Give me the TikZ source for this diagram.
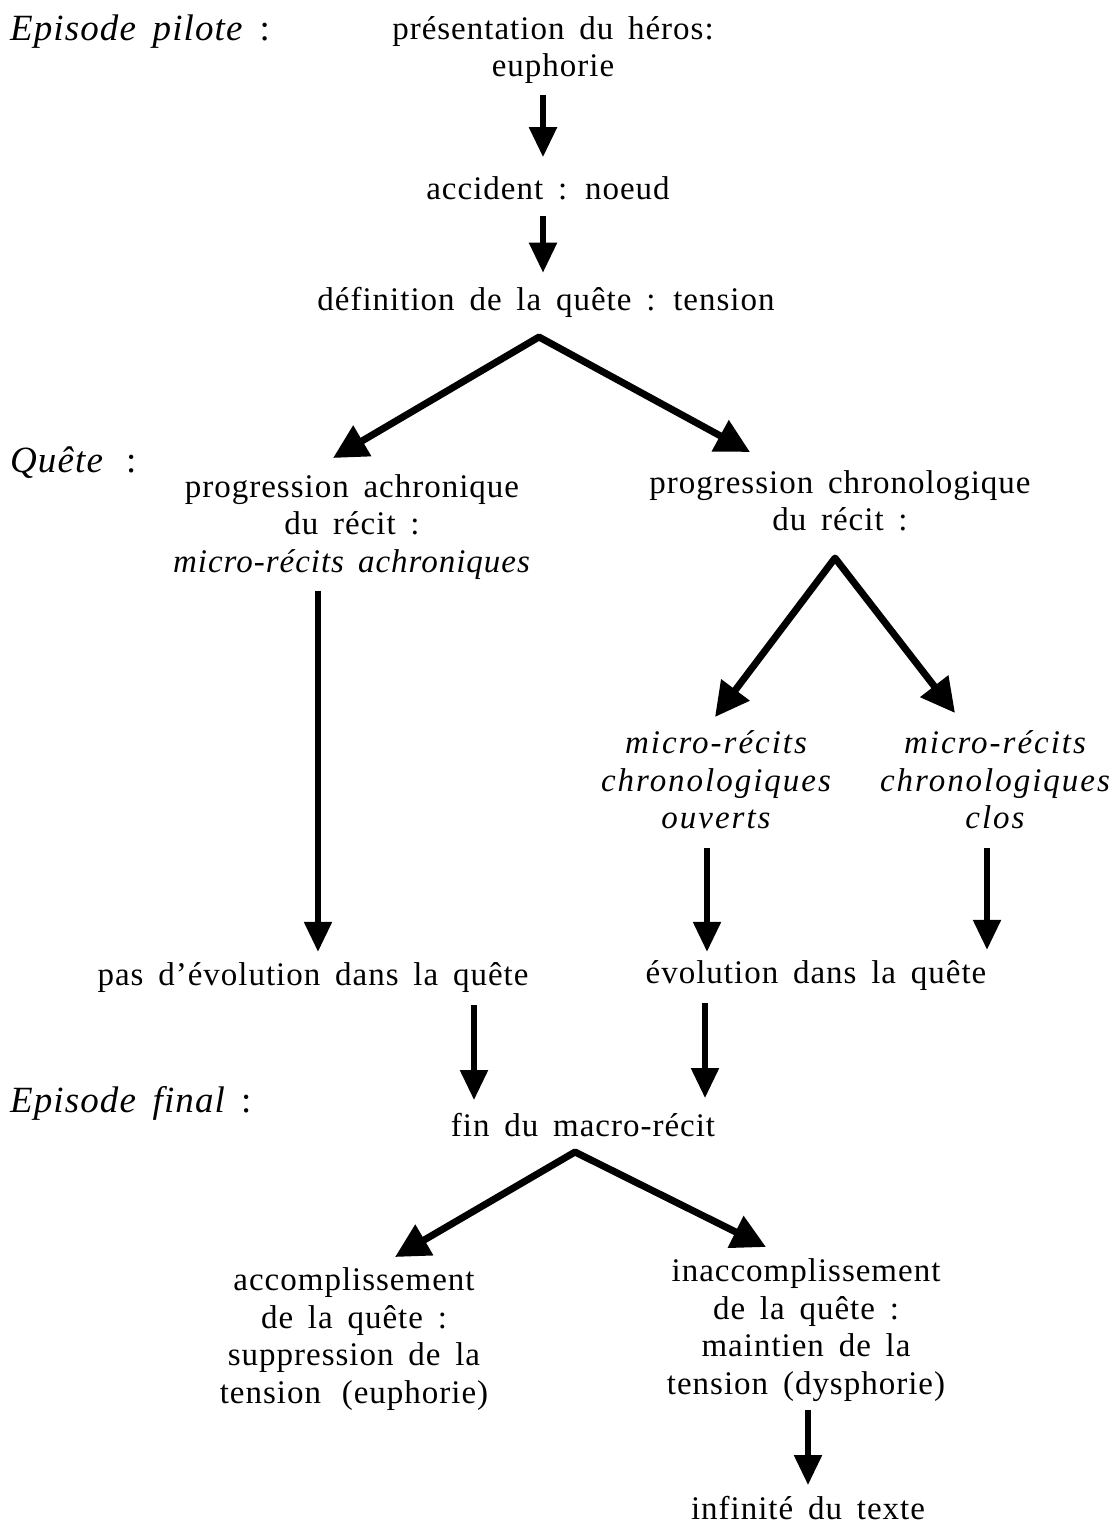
\documentclass[tikz,border=0pt]{standalone}
\usepackage{fontspec}
\setmainfont{Liberation Serif}[WordSpace=1.6, LetterSpace=3]
\usetikzlibrary{arrows.meta}
\newcommand{\spit}[1]{{\itshape\addfontfeatures{LetterSpace=6}#1}}
\tikzset{
  txt/.style={align=center, inner sep=0pt, font=\fontsize{33}{37.5}\selectfont},
  lbl/.style={anchor=west, inner sep=0pt, font=\fontsize{37}{40}\selectfont},
  varrow/.style={line width=5.5pt, -{Triangle[length=30pt,width=27pt]}},
  darrow/.style={line width=7pt, line join=round,
     {Triangle[length=34pt,width=34pt]}-{Triangle[length=34pt,width=34pt]}},
}
\begin{document}
\begin{tikzpicture}[x=1pt,y=-1pt]
\useasboundingbox (0,0) rectangle (1117,1525);
% section labels
\node[lbl] (lp) at (10,32) {\textit{Episode pilote}\hspace{16pt}:};
\node[lbl] (lq) at (10,463) {\textit{Quête}\hspace{22pt}:};
\node[lbl] (lf) at (10,1103) {\textit{Episode final}\hspace{15pt}:};
% nodes
\node[txt] (n1) at (553,50) {présentation du héros:\\euphorie};
\node[txt] (n2) at (548,188) {accident : noeud};
\node[txt] (n3) at (546,302) {définition de la quête : tension};
\node[txt] (n4) at (352,527) {progression achronique\\du récit :\\\textit{micro-récits\hspace{14pt}achroniques}};
\node[txt] (n5) at (840,501) {progression chronologique\\du récit :};
\node[txt] (n6) at (716,780) {\spit{micro-récits}\\\spit{chronologiques}\\\spit{ouverts}};
\node[txt] (n7) at (995,780) {\spit{micro-récits}\\\spit{chronologiques}\\\spit{clos}};
\node[txt] (n8) at (313,978) {pas d’évolution dans la quête};
\node[txt] (n9) at (816,976) {évolution dans la quête};
\node[txt] (n10) at (583,1125) {fin du macro-récit};
\node[txt] (n11) at (354,1339) {accomplissement\\de la quête :\\suppression de la\\tension\hspace{6pt} (euphorie)};
\node[txt] (n12) at (806,1330) {inaccomplissement\\de la quête :\\maintien de la\\tension (dysphorie)};
\node[txt] (n13) at (808,1508) {infinité du texte};
% split points
\coordinate (s1) at (539,337);
\coordinate (t4) at (333,458);
\coordinate (t5) at (750,452);
\coordinate (s2) at (835,558);
\coordinate (t6) at (715,717);
\coordinate (t7) at (955,713);
\coordinate (s3) at (575,1152);
\coordinate (t11) at (395,1257);
\coordinate (t12) at (766,1247);
% vertical arrows
\draw[varrow, shorten <=11pt, shorten >=19pt] (n1.south -| 543,0) -- (n2.north -| 543,0);
\draw[varrow, shorten <=16pt, shorten >=14pt] (n2.south -| 543,0) -- (n3.north -| 543,0);
\draw[varrow, shorten <=11pt, shorten >=11pt] (n4.south -| 318,0) -- (n8.north -| 318,0);
\draw[varrow, shorten <=19pt, shorten >=9pt] (n6.south -| 707,0) -- (n9.north -| 707,0);
\draw[varrow, shorten <=19pt, shorten >=11pt] (n7.south -| 987,0) -- (n9.north -| 987,0);
\draw[varrow, shorten <=12pt, shorten >=13pt] (n8.south -| 474,0) -- (n10.north -| 474,0);
\draw[varrow, shorten <=12pt, shorten >=15pt] (n9.south -| 705,0) -- (n10.north -| 705,0);
\draw[varrow, shorten <=9pt, shorten >=11pt] (n12.south -| 808,0) -- (n13.north -| 808,0);
% split arrows
\draw[darrow] (t4) -- (s1) -- (t5);
\draw[darrow] (t6) -- (s2) -- (t7);
\draw[darrow] (t11) -- (s3) -- (t12);
\end{tikzpicture}
\end{document}
